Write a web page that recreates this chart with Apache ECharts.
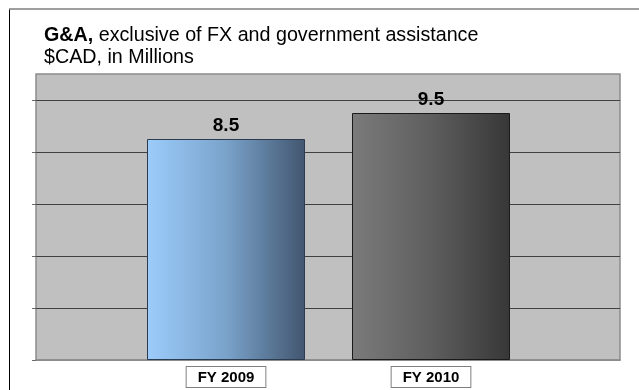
<!DOCTYPE html>
<html>
<head>
<meta charset="utf-8">
<style>
  html, body { margin: 0; padding: 0; background: #ffffff; }
  #chart { width: 639px; height: 390px; }
</style>
<script src="https://cdn.jsdelivr.net/npm/echarts@6/dist/echarts.min.js"></script>
</head>
<body>
<div id="chart"></div>
<script>
// G&A spending by fiscal year, $CAD millions
const categories = ['FY 2009', 'FY 2010'];
const gaValues = [8.5, 9.5];

// value axis range and gridline step
const yMin = 0;
const yMax = 11;
const yStep = 2;

// per-bar horizontal gradients (left -> right)
const barGradients = [
  { from: '#9cccfb', mid: '#7aa3cb', to: '#42566f', edge: '#2c3c50' },
  { from: '#7b7b7b', mid: '#5e5e5e', to: '#373737', edge: '#1a1a1a' }
];

const FONT = 'Liberation Sans, Arial, sans-serif';

const barData = gaValues.map((v, i) => ({
  value: v,
  itemStyle: {
    color: new echarts.graphic.LinearGradient(0, 0, 1, 0, [
      { offset: 0, color: barGradients[i].from },
      { offset: 0.5, color: barGradients[i].mid },
      { offset: 1, color: barGradients[i].to }
    ]),
    borderColor: barGradients[i].edge,
    borderWidth: 1
  }
}));

const chart = echarts.init(document.getElementById('chart'), null, { renderer: 'canvas' });

chart.setOption({
  animation: false,
  backgroundColor: '#ffffff',
  title: {
    left: 44,
    top: 25,
    padding: 0,
    text: '{b|G&A,} exclusive of FX and government assistance\n$CAD, in Millions',
    textStyle: {
      fontFamily: FONT,
      fontSize: 19.7,
      fontWeight: 'normal',
      color: '#000000',
      lineHeight: 21.5,
      rich: {
        b: { fontFamily: FONT, fontSize: 19.7, fontWeight: 'bold', color: '#000000', lineHeight: 21.5 }
      }
    }
  },
  graphic: [
    // outer frame: left edge and top edge
    { type: 'line', silent: true, shape: { x1: 9.5, y1: 9, x2: 9.5, y2: 390 }, style: { stroke: '#000000', lineWidth: 1 } },
    { type: 'line', silent: true, shape: { x1: 9, y1: 9, x2: 639, y2: 9 }, style: { stroke: '#7f7f7f', lineWidth: 1.5 } }
  ],
  grid: [
    // plot area (background, gridlines, ticks)
    { left: 36, right: 19, top: 74, height: 286, show: true, backgroundColor: '#c0c0c0', borderColor: '#8c8c8c', borderWidth: 1.5 },
    // bar slots
    { left: 123.5, right: 105.5, top: 74, height: 286 }
  ],
  xAxis: [
    {
      gridIndex: 0, type: 'category', data: categories,
      axisLine: { show: true, lineStyle: { color: '#8c8c8c', width: 1.5 } },
      axisTick: { show: false }, axisLabel: { show: false }, splitLine: { show: false }
    },
    {
      gridIndex: 1, type: 'category', data: categories,
      axisLine: { show: false }, axisTick: { show: false }, splitLine: { show: false },
      axisLabel: {
        margin: 7,
        fontFamily: FONT, fontSize: 15, fontWeight: 'bold', color: '#000000',
        lineHeight: 15,
        backgroundColor: '#ffffff',
        borderColor: '#808080', borderWidth: 1,
        padding: [3, 11, 2, 11]
      }
    }
  ],
  yAxis: [
    {
      gridIndex: 0, type: 'value', min: yMin, max: yMax, interval: yStep,
      axisLine: { show: false },
      axisLabel: { show: false },
      axisTick: { show: true, length: 4, lineStyle: { color: '#6a6a6a' }, customValues: [0, 2, 4, 6, 8, 10] },
      splitLine: {
        show: true,
        lineStyle: { color: ['#8c8c8c', '#404040', '#404040', '#404040', '#404040', '#404040', '#8c8c8c'], width: 1 }
      }
    },
    {
      gridIndex: 1, type: 'value', min: yMin, max: yMax, interval: yStep,
      show: false
    }
  ],
  series: [
    {
      type: 'bar',
      xAxisIndex: 1,
      yAxisIndex: 1,
      barWidth: 158,
      data: barData,
      z: 3,
      label: {
        show: true,
        position: 'top',
        distance: 4,
        fontFamily: FONT,
        fontSize: 19,
        fontWeight: 'bold',
        color: '#000000',
        formatter: p => p.value.toFixed(1)
      }
    }
  ]
});
</script>
</body>
</html>
